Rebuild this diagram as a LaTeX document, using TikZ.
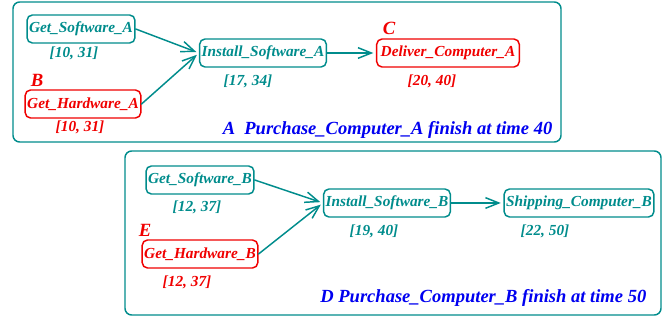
\documentclass[tikz,border=0pt]{standalone}
\usepackage{fontspec}
\setmainfont{Liberation Serif}
\usetikzlibrary{arrows.meta}
\definecolor{tealc}{RGB}{0,140,140}
\definecolor{bluec}{RGB}{0,0,240}
\definecolor{redc}{RGB}{240,0,0}
\tikzset{
  task/.style={draw=tealc,text=tealc,line width=1.1pt,rounded corners=4pt,minimum height=21pt,inner xsep=1.5pt,font=\bfseries\itshape\fontsize{11.5}{13}\selectfont},
  crit/.style={task,draw=redc,text=redc},
  span/.style={text=tealc,font=\bfseries\itshape\fontsize{11.5}{13}\selectfont},
  spanr/.style={span,text=redc},
  tag/.style={text=redc,font=\bfseries\itshape\fontsize{14}{16}\selectfont},
  title/.style={text=bluec,font=\bfseries\itshape\fontsize{13.9}{16}\selectfont},
  group/.style={draw=tealc,line width=1.1pt,rounded corners=5pt},
  link/.style={draw=tealc,line width=1.1pt,-{Straight Barb[length=10pt,width=8pt,line width=1.1pt]},shorten >=2pt}
}
\begin{document}
\begin{tikzpicture}[x=0.75pt,y=-0.75pt,line cap=round,line join=round]
\useasboundingbox (0,0) rectangle (671,320);
% computer A
\draw [group] (13,2) rectangle (561,142);
\node [task] (swa) at (81,29) {Get\_Software\_A};
\node [span] (swaT) at (74,53) {[10, 31]};
\node [tag] (tB) at (37,80) {B};
\node [crit] (hwa) at (83,104) {Get\_Hardware\_A};
\node [spanr] (hwaT) at (80,127) {[10, 31]};
\node [task] (isa) at (263,53) {Install\_Software\_A};
\node [span] (isaT) at (248,81) {[17, 34]};
\node [tag] (tC) at (389,28) {C};
\node [crit,inner xsep=3pt] (dca) at (448,53) {Deliver\_Computer\_A};
\node [spanr] (dcaT) at (432,81) {[20, 40]};
\node [title,anchor=east] (ttlA) at (557,130) {A\ \ Purchase\_Computer\_A finish at time 40};
\draw [link] (swa.east) -- (isa.west);
\draw [link] (hwa.east) -- (isa.west);
\draw [link] (isa.east) -- (dca.west);
% computer B
\draw [group] (125,151) rectangle (661,315);
\node [task] (swb) at (200,180) {Get\_Software\_B};
\node [span] (swbT) at (197,207) {[12, 37]};
\node [tag] (tE) at (145,230) {E};
\node [crit] (hwb) at (200,254) {Get\_Hardware\_B};
\node [spanr] (hwbT) at (187,282) {[12, 37]};
\node [task] (isb) at (387,203) {Install\_Software\_B};
\node [span] (isbT) at (374,231) {[19, 40]};
\node [task] (scb) at (579,203) {Shipping\_Computer\_B};
\node [span] (scbT) at (545,231) {[22, 50]};
\node [title,anchor=east] (ttlB) at (651,298) {D Purchase\_Computer\_B finish at time 50};
\draw [link] (swb.east) -- (isb.west);
\draw [link] (hwb.east) -- (isb.west);
\draw [link] (isb.east) -- (scb.west);
\end{tikzpicture}
\end{document}
